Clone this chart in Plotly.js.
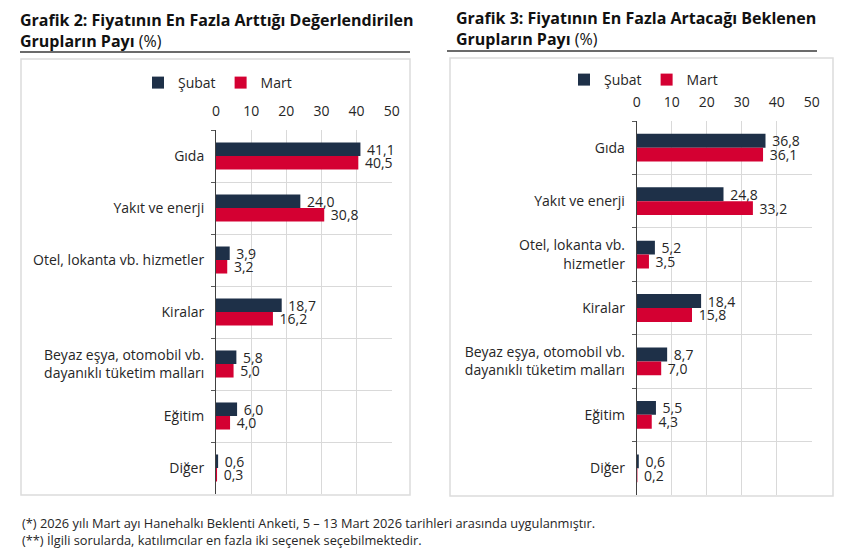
<!DOCTYPE html>
<html>
<head>
<meta charset="utf-8">
<script src="https://cdn.plot.ly/plotly-3.0.1.min.js"></script>
<style>
  html, body { margin: 0; padding: 0; background: #fff; }
  #chart { width: 850px; height: 559px; }
</style>
</head>
<body>
<div id="chart"></div>
<script>
(function () {
  // Grafik 2 - fiyatı en fazla arttığı değerlendirilen gruplar
  var cats2 = [
    "Gıda",
    "Yakıt ve enerji",
    "Otel, lokanta vb. hizmetler",
    "Kiralar",
    "Beyaz eşya, otomobil vb.<br>dayanıklı tüketim malları",
    "Eğitim",
    "Diğer"
  ];
  var subat2 = [41.1, 24.0, 3.9, 18.7, 5.8, 6.0, 0.6];
  var mart2 = [40.5, 30.8, 3.2, 16.2, 5.0, 4.0, 0.3];

  // Grafik 3 - fiyatı en fazla artacağı beklenen gruplar
  var cats3 = [
    "Gıda",
    "Yakıt ve enerji",
    "Otel, lokanta vb.<br>hizmetler",
    "Kiralar",
    "Beyaz eşya, otomobil vb.<br>dayanıklı tüketim malları",
    "Eğitim",
    "Diğer"
  ];
  var subat3 = [36.8, 24.8, 5.2, 18.4, 8.7, 5.5, 0.6];
  var mart3 = [36.1, 33.2, 3.5, 15.8, 7.0, 4.3, 0.2];

  var xTicks = [0, 10, 20, 30, 40, 50];
  var seriesNames = ["Şubat", "Mart"];

  var W = 850, H = 559;
  var NAVY = "#1e3048", RED = "#d40032", TXT = "#262626";
  var FONT = "Open Sans, sans-serif";

  function fx(px) { return px / W; }
  function fy(py) { return 1 - py / H; }

  function barTrace(name, vals, cats, color, xa, ya, legend) {
    return {
      type: "bar",
      orientation: "h",
      name: name,
      x: vals,
      y: cats,
      xaxis: xa,
      yaxis: ya,
      legend: legend,
      marker: { color: color },
      texttemplate: "\u00a0%{x:.1f}",
      textposition: "outside",
      constraintext: "none",
      cliponaxis: false,
      textfont: { family: FONT, size: 14, color: TXT },
      hoverinfo: "x+y"
    };
  }

  var data = [
    barTrace(seriesNames[0], subat2, cats2, NAVY, "x", "y", "legend"),
    barTrace(seriesNames[1], mart2, cats2, RED, "x", "y", "legend"),
    barTrace(seriesNames[0], subat3, cats3, NAVY, "x2", "y2", "legend2"),
    barTrace(seriesNames[1], mart3, cats3, RED, "x2", "y2", "legend2")
  ];

  function xAxis(domain, anchor) {
    return {
      domain: domain,
      anchor: anchor,
      side: "top",
      range: [0, 50],
      tickvals: xTicks,
      ticks: "",
      ticklabelstandoff: 10,
      showgrid: true,
      gridcolor: "#d9d9d9",
      gridwidth: 1,
      zeroline: false,
      showline: false,
      tickfont: { family: FONT, size: 14, color: TXT },
      fixedrange: true
    };
  }

  function yAxis(domain, anchor) {
    return {
      domain: domain,
      anchor: anchor,
      type: "category",
      autorange: "reversed",
      tickson: "boundaries",
      ticks: "outside",
      ticklen: 4,
      tickcolor: "#595959",
      ticklabelstandoff: 8,
      showgrid: true,
      gridcolor: "#d9d9d9",
      showline: true,
      linecolor: "#404040",
      linewidth: 1,
      tickfont: { family: FONT, size: 14, color: TXT },
      fixedrange: true
    };
  }

  function titleNote(txt, x, y) {
    return {
      xref: "paper", yref: "paper",
      x: fx(x), y: fy(y),
      xanchor: "left", yanchor: "middle",
      showarrow: false,
      text: txt,
      font: { family: FONT, size: 16, color: "#111111" }
    };
  }

  function footNote(txt, y) {
    return {
      xref: "paper", yref: "paper",
      x: fx(20), y: fy(y),
      xanchor: "left", yanchor: "middle",
      showarrow: false,
      text: txt,
      font: { family: FONT, size: 12.8, color: TXT }
    };
  }

  function legendBox(x, y) {
    return {
      orientation: "h",
      x: fx(x), y: fy(y),
      xanchor: "left", yanchor: "middle",
      font: { family: FONT, size: 14, color: TXT },
      itemwidth: 30,
      tracegroupgap: 0,
      bgcolor: "rgba(0,0,0,0)"
    };
  }

  var layout = {
    width: W,
    height: H,
    margin: { t: 0, r: 0, b: 0, l: 0 },
    paper_bgcolor: "#ffffff",
    plot_bgcolor: "rgba(0,0,0,0)",
    separators: ",.",
    barmode: "group",
    bargap: 0.48,
    bargroupgap: 0,
    xaxis: xAxis([fx(216), fx(391.7)], "y"),
    yaxis: yAxis([fy(494), fy(130)], "x"),
    xaxis2: xAxis([fx(636.7), fx(811.7)], "y2"),
    yaxis2: yAxis([fy(495), fy(121)], "x2"),
    legend: legendBox(138, 83),
    legend2: legendBox(564, 80),
    shapes: [
      // title underlines
      { type: "line", xref: "paper", yref: "paper", x0: fx(20), x1: fx(410), y0: fy(52), y1: fy(52), line: { color: "#3a3a3a", width: 1.5 } },
      { type: "line", xref: "paper", yref: "paper", x0: fx(447), x1: fx(817), y0: fy(51), y1: fy(51), line: { color: "#3a3a3a", width: 1.5 } },
      // panel frames
      { type: "rect", xref: "paper", yref: "paper", x0: fx(21), x1: fx(410), y0: fy(495), y1: fy(59), line: { color: "#dcdcdc", width: 1.5 }, layer: "below" },
      { type: "rect", xref: "paper", yref: "paper", x0: fx(450), x1: fx(833), y0: fy(496), y1: fy(58), line: { color: "#dcdcdc", width: 1.5 }, layer: "below" }
    ],
    annotations: [
      titleNote("<b>Grafik 2: Fiyatının En Fazla Arttığı Değerlendirilen</b>", 18, 20),
      titleNote("<b>Grupların Payı</b> (%)", 18, 41),
      titleNote("<b>Grafik 3: Fiyatının En Fazla Artacağı Beklenen</b>", 454, 18),
      titleNote("<b>Grupların Payı</b> (%)", 454, 39),
      footNote("(*) 2026 yılı Mart ayı Hanehalkı Beklenti Anketi, 5 – 13 Mart 2026 tarihleri arasında uygulanmıştır.", 523),
      footNote("(**) İlgili sorularda, katılımcılar en fazla iki seçenek seçebilmektedir.", 540)
    ]
  };

  Plotly.newPlot("chart", data, layout, { displayModeBar: false, staticPlot: true });
})();
</script>
</body>
</html>
